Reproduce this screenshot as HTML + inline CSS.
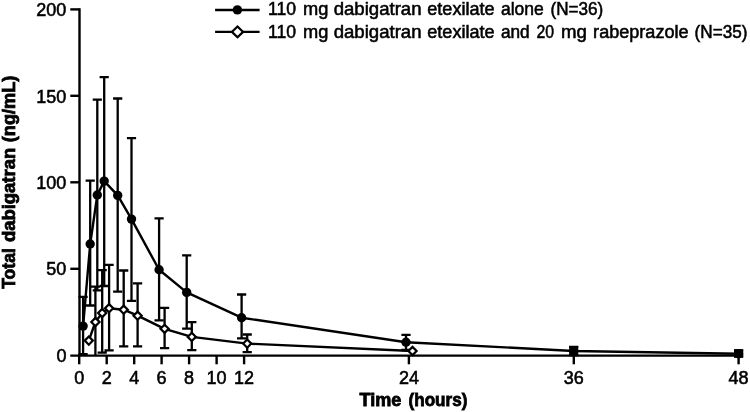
<!DOCTYPE html>
<html><head><meta charset="utf-8"><title>Total dabigatran vs time</title>
<style>
html,body{margin:0;padding:0;background:#fff;}
svg{display:block;}
text{font-family:"Liberation Sans",sans-serif;fill:#000;}
.t{font-size:18.0px;stroke:#000;stroke-width:0.55px;}
.b{font-size:18.0px;font-weight:bold;stroke:#000;stroke-width:0.8px;}
.ln{stroke:#000;fill:none;}
</style></head><body>
<svg width="750" height="412" viewBox="0 0 750 412">
<rect width="750" height="412" fill="#fff"/>

<g class="ln" stroke-width="2.4">
<path d="M79.5 8.2V355.6"/>
<path d="M70.3 355.6H740"/>
<path d="M70.3 268.8H79.5"/>
<path d="M70.3 182.3H79.5"/>
<path d="M70.3 95.8H79.5"/>
<path d="M70.3 9.4H79.5"/>
<path d="M79.2 355.6V364.3"/>
<path d="M106.7 355.6V364.3"/>
<path d="M134.2 355.6V364.3"/>
<path d="M161.6 355.6V364.3"/>
<path d="M189.1 355.6V364.3"/>
<path d="M216.6 355.6V364.3"/>
<path d="M244.1 355.6V364.3"/>
<path d="M408.9 355.6V364.3"/>
<path d="M573.8 355.6V364.3"/>
<path d="M738.6 355.6V364.3"/>
</g>
<path class="ln" stroke-width="2.3" d="M83.1 296.8V354.2M78.5 296.8H87.7M78.5 354.2H87.7M90.2 180.7V305.5M85.6 180.7H94.8M85.6 305.5H94.8M97.3 99.7V290.4M92.7 99.7H101.9M92.7 290.4H101.9M104.2 77.1V286.0M99.6 77.1H108.8M99.6 286.0H108.8M117.7 98.5V291.7M113.1 98.5H122.3M113.1 291.7H122.3M131.5 138.1V300.9M126.9 138.1H136.1M126.9 300.9H136.1M159.1 218.4V320.4M154.5 218.4H163.7M154.5 320.4H163.7M186.7 255.4V328.7M182.1 255.4H191.3M182.1 328.7H191.3M241.6 294.5V338.3M237.0 294.5H246.2M237.0 338.3H246.2M406.0 334.9V350.0M401.4 334.9H410.6M401.4 350.0H410.6M573.7 347.0V355.0M569.1 347.0H578.3M569.1 355.0H578.3M738.6 350.3V356.5M734.0 350.3H743.2M734.0 356.5H743.2"/>
<path class="ln" stroke-width="2.3" d="M95.4 286.7V355.0M90.8 286.7H100.0M102.2 270.2V352.7M97.6 270.2H106.8M97.6 352.7H106.8M109.1 264.8V350.4M104.5 264.8H113.7M104.5 350.4H113.7M123.7 270.5V346.4M119.1 270.5H128.3M119.1 346.4H128.3M137.6 283.3V346.4M133.0 283.3H142.2M133.0 346.4H142.2M164.6 307.9V348.1M160.0 307.9H169.2M160.0 348.1H169.2M191.8 322.1V350.2M187.2 322.1H196.4M187.2 350.2H196.4M247.2 334.5V352.1M242.6 334.5H251.8M242.6 352.1H251.8"/>
<path class="ln" stroke-width="2.4" stroke-linejoin="round" d="M83.1 326.1 L90.2 244.0 L97.3 195.0 L104.2 181.1 L117.7 195.4 L131.5 219.1 L159.1 269.8 L186.7 292.4 L241.6 317.7 L406.0 342.2 L573.7 351.0 L738.6 353.8"/>
<path class="ln" stroke-width="2.4" stroke-linejoin="round" d="M88.8 340.6 L95.4 322.0 L102.2 313.0 L109.1 308.2 L123.7 309.7 L137.6 315.7 L164.6 328.8 L191.8 336.9 L247.2 343.6 L412.5 351.0"/>
<circle cx="83.1" cy="326.1" r="4.7" fill="#000"/>
<circle cx="90.2" cy="244.0" r="4.7" fill="#000"/>
<circle cx="97.3" cy="195.0" r="4.7" fill="#000"/>
<circle cx="104.2" cy="181.1" r="4.7" fill="#000"/>
<circle cx="117.7" cy="195.4" r="4.7" fill="#000"/>
<circle cx="131.5" cy="219.1" r="4.7" fill="#000"/>
<circle cx="159.1" cy="269.8" r="4.7" fill="#000"/>
<circle cx="186.7" cy="292.4" r="4.7" fill="#000"/>
<circle cx="241.6" cy="317.7" r="4.7" fill="#000"/>
<circle cx="406.0" cy="342.2" r="4.7" fill="#000"/>
<circle cx="573.7" cy="351.0" r="4.7" fill="#000"/>
<circle cx="738.6" cy="353.8" r="4.7" fill="#000"/>
<path d="M88.8 336.5L92.9 340.6L88.8 344.7L84.7 340.6Z" fill="#fff" stroke="#000" stroke-width="2.2"/>
<path d="M95.4 317.9L99.5 322.0L95.4 326.1L91.3 322.0Z" fill="#fff" stroke="#000" stroke-width="2.2"/>
<path d="M102.2 308.9L106.3 313.0L102.2 317.1L98.1 313.0Z" fill="#fff" stroke="#000" stroke-width="2.2"/>
<path d="M109.1 304.1L113.2 308.2L109.1 312.3L105.0 308.2Z" fill="#fff" stroke="#000" stroke-width="2.2"/>
<path d="M123.7 305.6L127.8 309.7L123.7 313.8L119.6 309.7Z" fill="#fff" stroke="#000" stroke-width="2.2"/>
<path d="M137.6 311.6L141.7 315.7L137.6 319.8L133.5 315.7Z" fill="#fff" stroke="#000" stroke-width="2.2"/>
<path d="M164.6 324.7L168.7 328.8L164.6 332.9L160.5 328.8Z" fill="#fff" stroke="#000" stroke-width="2.2"/>
<path d="M191.8 332.8L195.9 336.9L191.8 341.0L187.7 336.9Z" fill="#fff" stroke="#000" stroke-width="2.2"/>
<path d="M247.2 339.5L251.3 343.6L247.2 347.7L243.1 343.6Z" fill="#fff" stroke="#000" stroke-width="2.2"/>
<path d="M412.5 346.9L416.6 351.0L412.5 355.1L408.4 351.0Z" fill="#fff" stroke="#000" stroke-width="2.2"/>
<rect x="569.2" y="346" width="9" height="10" fill="#000"/><rect x="734" y="349.3" width="9.2" height="8.2" fill="#000"/>
<path class="ln" stroke-width="2.4" d="M215.1 10H259.6M215.1 31.9H259.6"/>
<circle cx="237.4" cy="9.9" r="4.7" fill="#000"/>
<path d="M237.5 26.5L243.1 31.9L237.5 37.3L231.9 31.9Z" fill="#fff" stroke="#000" stroke-width="2.2"/>
<text class="t" transform="translate(268.03 15.2) scale(0.9784 1)">110</text>
<text class="t" transform="translate(303.01 15.2) scale(1.0144 1)">mg</text>
<text class="t" transform="translate(333.70 15.2) scale(1.0328 1)">dabigatran</text>
<text class="t" transform="translate(427.32 15.2) scale(1.0038 1)">etexilate</text>
<text class="t" transform="translate(500.95 15.2) scale(0.9729 1)">alone</text>
<text class="t" transform="translate(550.50 15.2) scale(0.9512 1)">(N=36)</text>
<text class="t" transform="translate(268.03 37.6) scale(0.9784 1)">110</text>
<text class="t" transform="translate(303.01 37.6) scale(1.0144 1)">mg</text>
<text class="t" transform="translate(333.70 37.6) scale(1.0328 1)">dabigatran</text>
<text class="t" transform="translate(427.32 37.6) scale(1.0038 1)">etexilate</text>
<text class="t" transform="translate(500.96 37.6) scale(0.9582 1)">and</text>
<text class="t" transform="translate(536.51 37.6) scale(0.8789 1)">20</text>
<text class="t" transform="translate(561.08 37.6) scale(1.0365 1)">mg</text>
<text class="t" transform="translate(593.12 37.6) scale(1.0048 1)">rabeprazole</text>
<text class="t" transform="translate(694.60 37.6) scale(0.9531 1)">(N=35)</text>
<text class="t" x="66.4" y="361.9" text-anchor="end">0</text>
<text class="t" x="66.4" y="275.4" text-anchor="end">50</text>
<text class="t" x="66.4" y="189.0" text-anchor="end">100</text>
<text class="t" x="66.4" y="102.5" text-anchor="end">150</text>
<text class="t" x="66.4" y="16.1" text-anchor="end">200</text>
<text class="t" x="79.2" y="383.8" text-anchor="middle">0</text>
<text class="t" x="106.7" y="383.8" text-anchor="middle">2</text>
<text class="t" x="134.2" y="383.8" text-anchor="middle">4</text>
<text class="t" x="161.6" y="383.8" text-anchor="middle">6</text>
<text class="t" x="189.1" y="383.8" text-anchor="middle">8</text>
<text class="t" x="216.6" y="383.8" text-anchor="middle">10</text>
<text class="t" x="244.1" y="383.8" text-anchor="middle">12</text>
<text class="t" x="408.9" y="383.8" text-anchor="middle">24</text>
<text class="t" x="573.8" y="383.8" text-anchor="middle">36</text>
<text class="t" x="738.6" y="383.8" text-anchor="middle">48</text>
<text class="b" transform="translate(359.55 405.8) scale(1.0055 0.97)">Time</text>
<text class="b" transform="translate(408.57 405.8) scale(0.9494 0.97)">(hours)</text>
<text class="b" transform="translate(15.3 288.79) rotate(-90) scale(0.9745 0.97)">Total</text>
<text class="b" transform="translate(15.3 242.12) rotate(-90) scale(1.0252 0.97)">dabigatran</text>
<text class="b" transform="translate(15.3 142.23) rotate(-90) scale(1.0086 0.97)">(ng/mL)</text>
</svg>
</body></html>
